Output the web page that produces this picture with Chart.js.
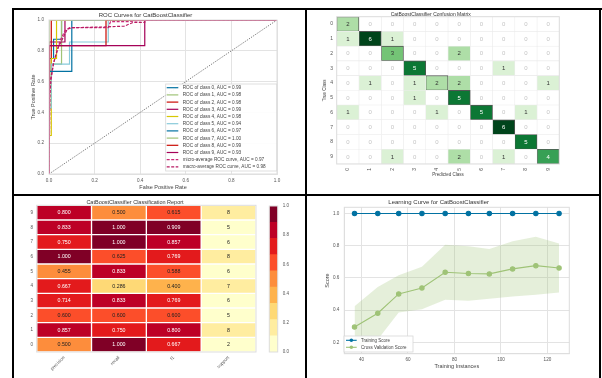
<!DOCTYPE html>
<html>
<head>
<meta charset="utf-8">
<script src="https://cdn.jsdelivr.net/npm/chart.js@4.4.0/dist/chart.umd.min.js"></script>
<style>
body { margin: 0; background: #fff; }
#page { position: relative; width: 602px; height: 378px; overflow: hidden; background: #fff; }
canvas { position: absolute; }
.rule { position: absolute; background: #000; }
</style>
</head>
<body>
<div id="page">
  <canvas id="roc" width="286" height="184" style="left:14px;top:10px"></canvas>
  <canvas id="cm" width="296" height="184" style="left:302px;top:10px"></canvas>
  <canvas id="report" width="246" height="182" style="left:14px;top:196px"></canvas>
  <canvas id="cbar" width="40" height="182" style="left:260px;top:196px"></canvas>
  <canvas id="lc" width="290" height="182" style="left:308px;top:196px"></canvas>
  <div class="rule" style="left:12px;top:8px;width:590px;height:2px"></div>
  <div class="rule" style="left:12px;top:8px;width:2px;height:370px"></div>
  <div class="rule" style="left:599px;top:8px;width:2px;height:370px"></div>
  <div class="rule" style="left:12px;top:194px;width:589px;height:2px"></div>
  <div class="rule" style="left:305px;top:8px;width:2px;height:370px"></div>
</div>
<script>
// ---- ROC data (fpr / tpr per class) ----
const rocClasses = ['0', '1', '2', '3', '4', '5', '6', '7', '8', '9'];
const rocAuc = [0.99, 0.98, 0.98, 0.99, 0.98, 0.94, 0.97, 1.00, 0.99, 0.93];
const rocFpr = [
  [0, 0, 0.02, 0.02, 0.055, 0.055, 1],
  [0, 0, 0.01, 0.01, 0.055, 0.055, 1],
  [0, 0, 0.01, 0.01, 1],
  [0, 0, 0.07, 0.07, 1],
  [0, 0, 0.01, 0.01, 0.033, 0.033, 1],
  [0, 0, 0.01, 0.01, 0.09, 0.09, 0.26, 0.26, 1],
  [0, 0, 0.1, 0.1, 1],
  [0, 0, 1],
  [0, 0, 0.25, 0.25, 1],
  [0, 0, 0.42, 0.42, 1]
];
const rocTpr = [
  [0, 0.75, 0.75, 0.875, 0.875, 1, 1],
  [0, 0.571, 0.571, 0.714, 0.714, 1, 1],
  [0, 0.667, 0.667, 1, 1],
  [0, 0.857, 0.857, 1, 1],
  [0, 0.25, 0.25, 0.75, 0.75, 1, 1],
  [0, 0.429, 0.429, 0.714, 0.714, 0.857, 0.857, 1, 1],
  [0, 0.667, 0.667, 1, 1],
  [0, 1, 1],
  [0, 0.833, 0.833, 1, 1],
  [0, 0.833, 0.833, 1, 1]
];
const microFpr = [0, 0, 0.01, 0.02, 0.035, 0.05, 0.07, 0.09, 0.26, 0.27, 0.35, 0.42, 1];
const microTpr = [0, 0.475, 0.62, 0.72, 0.8, 0.87, 0.93, 0.95, 0.95, 0.99, 0.99, 1, 1];
const macroFpr = [0, 0.005, 0.02, 0.04, 0.06, 0.08, 0.1, 0.25, 0.33, 0.37, 0.42, 0.42, 1];
const macroTpr = [0, 0.6, 0.72, 0.82, 0.88, 0.94, 0.95, 0.955, 0.96, 0.985, 0.985, 1, 1];
const microAuc = 0.97;
const macroAuc = 0.98;
const rateTicks = [0, 0.2, 0.4, 0.6, 0.8, 1.0];

// ---- confusion matrix (rows = true, cols = predicted) ----
const cmClasses = ['0', '1', '2', '3', '4', '5', '6', '7', '8', '9'];
const confusion = [
  [2, 0, 0, 0, 0, 0, 0, 0, 0, 0],
  [1, 6, 1, 0, 0, 0, 0, 0, 0, 0],
  [0, 0, 3, 0, 0, 2, 0, 0, 0, 0],
  [0, 0, 0, 5, 0, 0, 0, 1, 0, 0],
  [0, 1, 0, 1, 2, 2, 0, 0, 0, 1],
  [0, 0, 0, 1, 0, 5, 0, 0, 0, 0],
  [1, 0, 0, 0, 1, 0, 5, 0, 1, 0],
  [0, 0, 0, 0, 0, 0, 0, 6, 0, 0],
  [0, 0, 0, 0, 0, 0, 0, 0, 5, 0],
  [0, 0, 1, 0, 0, 2, 0, 1, 0, 4]
];

// ---- classification report (rows top to bottom) ----
const reportClasses = ['9', '8', '7', '6', '5', '4', '3', '2', '1', '0'];
const reportCols = ['precision', 'recall', 'f1', 'support'];
const precision = [0.800, 0.833, 0.750, 1.000, 0.455, 0.667, 0.714, 0.600, 0.857, 0.500];
const recall    = [0.500, 1.000, 1.000, 0.625, 0.833, 0.286, 0.833, 0.600, 0.750, 1.000];
const f1        = [0.615, 0.909, 0.857, 0.769, 0.588, 0.400, 0.769, 0.600, 0.800, 0.667];
const support   = [8, 5, 6, 8, 6, 7, 6, 5, 8, 2];
const cbarTicks = [0, 0.2, 0.4, 0.6, 0.8, 1.0];

// ---- learning curve ----
const trainSizes = [37, 47, 56, 66, 76, 86, 95, 105, 115, 125];
const trainScore = [1, 1, 1, 1, 1, 1, 1, 1, 1, 1];
const cvScore = [0.295, 0.381, 0.501, 0.538, 0.635, 0.627, 0.625, 0.656, 0.676, 0.662];
const cvUpper = [0.425, 0.544, 0.616, 0.670, 0.806, 0.796, 0.779, 0.827, 0.856, 0.814];
const cvLower = [0.165, 0.218, 0.386, 0.406, 0.464, 0.458, 0.471, 0.485, 0.496, 0.510];
const lcXTicks = [40, 60, 80, 100, 120];
const lcYTicks = [0.2, 0.4, 0.6, 0.8, 1.0];

Chart.defaults.font.family = '"Liberation Sans", Arial, sans-serif';
Chart.defaults.color = '#555';
Chart.defaults.animation = false;
Chart.defaults.events = [];
Chart.defaults.plugins.legend.display = false;
Chart.defaults.plugins.tooltip.enabled = false;

const palette = ['#0272a2', '#9fc377', '#ca0b03', '#a50258', '#d7c703', '#88cada'];
const GRID = '#e3e3e3';

const frame = {
  id: 'frame',
  afterDatasetsDraw(chart, args, opts) {
    const a = chart.chartArea, ctx = chart.ctx;
    ctx.save();
    ctx.strokeStyle = opts.color || '#ddd';
    ctx.lineWidth = 1;
    ctx.strokeRect(a.left, a.top, a.right - a.left, a.bottom - a.top);
    ctx.restore();
  }
};

// legend box drawn inside the plot, like matplotlib
const boxLegend = {
  id: 'boxLegend',
  afterDraw(chart, args, o) {
    if (!o || !o.rows) return;
    const ctx = chart.ctx;
    const items = chart.data.datasets.filter(d => d.label);
    ctx.save();
    ctx.fillStyle = 'rgba(255,255,255,0.9)';
    ctx.strokeStyle = '#d8d8d8';
    ctx.lineWidth = 0.8;
    ctx.fillRect(o.left, o.top, o.width, o.height);
    ctx.strokeRect(o.left, o.top, o.width, o.height);
    ctx.font = o.font + 'px "Liberation Sans", Arial, sans-serif';
    ctx.textBaseline = 'middle';
    items.forEach((d, i) => {
      const y = o.rows + i * o.rowH;
      ctx.strokeStyle = d.borderColor;
      ctx.lineWidth = d.borderWidth;
      ctx.setLineDash(d.borderDash || []);
      ctx.beginPath();
      ctx.moveTo(o.line0, y);
      ctx.lineTo(o.line1, y);
      ctx.stroke();
      ctx.setLineDash([]);
      if (o.marker) {
        ctx.fillStyle = d.borderColor;
        ctx.beginPath();
        ctx.arc((o.line0 + o.line1) / 2, y, o.marker, 0, Math.PI * 2);
        ctx.fill();
      }
      ctx.fillStyle = '#444';
      ctx.fillText(d.label, o.text, y + 0.3);
    });
    ctx.restore();
  }
};

// value text inside heatmap cells
const cellText = {
  id: 'cellText',
  afterDatasetsDraw(chart, args, o) {
    const ctx = chart.ctx;
    ctx.save();
    ctx.font = o.font + 'px "Liberation Sans", Arial, sans-serif';
    ctx.textAlign = 'center';
    ctx.textBaseline = 'middle';
    chart.data.datasets.forEach((ds, di) => {
      if (!ds.cellText) return;
      chart.getDatasetMeta(di).data.forEach((bar, i) => {
        ctx.fillStyle = ds.textColor[i];
        ctx.fillText(ds.cellText[i], (bar.x + bar.base) / 2, bar.y + 0.3);
      });
    });
    ctx.restore();
  }
};

const fixTicks = list => scale => { scale.ticks = list.map(v => ({ value: v })); };

function hexRgb(h) { return [1, 3, 5].map(k => parseInt(h.substr(k, 2), 16)); }
// dark text on bright cells, white text on dark ones
function textOn(hex) {
  const [r, g, b] = hexRgb(hex);
  const br = Math.sqrt(0.241 * r * r + 0.691 * g * g + 0.068 * b * b);
  return br > 130 ? '#222' : '#ffffff';
}

// ================= ROC =================
const rocSets = rocClasses.map((c, i) => ({
  label: 'ROC of class ' + c + ', AUC = ' + rocAuc[i].toFixed(2),
  data: rocFpr[i].map((x, k) => ({ x: x, y: rocTpr[i][k] })),
  borderColor: palette[i % palette.length],
  borderWidth: 1.2,
  order: 30 - i
}));
rocSets.push({
  label: 'micro-average ROC curve, AUC = ' + microAuc.toFixed(2),
  data: microFpr.map((x, k) => ({ x: x, y: microTpr[k] })),
  borderColor: '#cc2a78', borderWidth: 1.2, borderDash: [3, 1.5], order: 5
});
rocSets.push({
  label: 'macro-average ROC curve, AUC = ' + macroAuc.toFixed(2),
  data: macroFpr.map((x, k) => ({ x: x, y: macroTpr[k] })),
  borderColor: '#b81a62', borderWidth: 1.2, borderDash: [3, 1.5], order: 4
});
rocSets.push({
  data: [{ x: 0, y: 0 }, { x: 1, y: 1 }],
  borderColor: '#555', borderWidth: 0.9, borderDash: [1, 1.3], order: 40
});

new Chart(document.getElementById('roc'), {
  type: 'line',
  data: { datasets: rocSets },
  options: {
    responsive: false,
    layout: { padding: { left: 0, top: 0, right: 23, bottom: 0 } },
    elements: { point: { radius: 0 }, line: { tension: 0, fill: false } },
    plugins: {
      title: { display: true, text: 'ROC Curves for CatBoostClassifier', color: '#333',
        font: { size: 6, weight: 'normal' }, padding: { top: 1.4, bottom: 1.4 } },
      boxLegend: { left: 151.7, top: 74, width: 111, height: 87, rows: 77.7, rowH: 7.2,
        line0: 152.7, line1: 164.3, text: 168.7, font: 4.7 }
    },
    scales: {
      x: {
        type: 'linear', min: 0, max: 1,
        afterBuildTicks: fixTicks(rateTicks),
        afterFit: s => { s.height = 20; },
        ticks: { callback: v => v.toFixed(1), padding: 4, font: { size: 4.6 } },
        grid: { color: GRID, drawTicks: false }, border: { color: GRID },
        title: { display: true, text: 'False Positive Rate', color: '#444', font: { size: 5.5 }, padding: { top: 0, bottom: 3.4 } }
      },
      y: {
        type: 'linear', min: 0, max: 1,
        afterBuildTicks: fixTicks(rateTicks),
        afterFit: s => { s.width = 35; },
        ticks: { callback: v => v.toFixed(1), padding: 5, font: { size: 4.6 } },
        grid: { color: GRID, drawTicks: false }, border: { color: GRID },
        title: { display: true, text: 'True Positive Rate', color: '#444', font: { size: 5.5 }, padding: { top: 15.7, bottom: 0 } }
      }
    }
  },
  plugins: [frame, boxLegend]
});

// ================= Confusion matrix =================
const greenStops = ['#f7fcf5', '#e5f5e0', '#c7e9c0', '#a1d99b', '#74c476', '#41ab5d', '#238b45', '#006d2c', '#00441b'];
function greens(t) {
  const p = Math.max(0, Math.min(1, t)) * (greenStops.length - 1);
  const i = Math.min(greenStops.length - 2, Math.floor(p));
  const f = p - i, a = hexRgb(greenStops[i]), b = hexRgb(greenStops[i + 1]);
  return 'rgb(' + a.map((v, k) => Math.round(v + (b[k] - v) * f)).join(',') + ')';
}
const cmMax = Math.max(...confusion.map(r => Math.max(...r)));
const cmSets = cmClasses.map((c, col) => ({
  data: cmClasses.map(() => 1),
  backgroundColor: confusion.map(r => r[col] === 0 ? '#ffffff' : greens(r[col] / cmMax)),
  borderColor: confusion.map((r, row) => row === col ? '#555' : '#ececec'),
  borderWidth: confusion.map((r, row) => row === col ? 0.9 : 0.6),
  borderSkipped: false,
  cellText: confusion.map(r => String(r[col])),
  textColor: confusion.map(r => r[col] === 0 ? '#c4c4c4' : (r[col] >= 4 ? '#ffffff' : '#333'))
}));

new Chart(document.getElementById('cm'), {
  type: 'bar',
  data: { labels: cmClasses, datasets: cmSets },
  options: {
    responsive: false,
    indexAxis: 'y',
    barPercentage: 1, categoryPercentage: 1,
    layout: { padding: { left: 0, top: 0, right: 38.7, bottom: 0 } },
    plugins: {
      title: { display: true, text: 'CatBoostClassifier Confusion Matrix', color: '#333',
        font: { size: 5, weight: 'normal', lineHeight: 1 }, padding: { top: 1, bottom: 0 } },
      cellText: { font: 6 }
    },
    scales: {
      x: {
        type: 'linear', stacked: true, min: 0, max: cmClasses.length,
        afterBuildTicks: fixTicks(cmClasses.map((c, i) => i + 0.5)),
        afterFit: s => { s.height = 30; },
        ticks: { callback: (v, i) => cmClasses[i], minRotation: 90, maxRotation: 90, autoSkip: false, padding: 4, font: { size: 5 } },
        grid: { display: false, drawTicks: false }, border: { display: false },
        title: { display: true, text: 'Predicted Class', color: '#444', font: { size: 4.5 }, padding: { top: 0, bottom: 16.3 } }
      },
      y: {
        stacked: true,
        afterFit: s => { s.width = 34.7; },
        ticks: { padding: 3.7, font: { size: 5 } },
        grid: { display: false, drawTicks: false }, border: { display: false },
        title: { display: true, text: 'True Class', color: '#444', font: { size: 4.5 }, padding: { top: 20.3, bottom: 0 } }
      }
    }
  },
  plugins: [cellText, frame]
});

// ================= Classification report =================
const ylorrd = ['#ffffcc', '#ffeda0', '#fed976', '#feb24c', '#fd8d3c', '#fc4e2a', '#e31a1c', '#bd0026', '#800026'];
const band = v => Math.min(ylorrd.length - 1, Math.floor(v * ylorrd.length));
const supportTotal = support.reduce((a, b) => a + b, 0);
const reportValues = [precision, recall, f1, support.map(s => s / supportTotal)];
const reportText = [precision, recall, f1].map(a => a.map(v => v.toFixed(3))).concat([support.map(String)]);

const reportSets = reportCols.map((c, k) => ({
  data: reportClasses.map(() => 1),
  backgroundColor: reportValues[k].map(v => ylorrd[band(v)]),
  borderColor: 'rgba(255,255,255,0.75)',
  borderWidth: 1,
  borderSkipped: false,
  cellText: reportText[k],
  textColor: reportValues[k].map(v => textOn(ylorrd[band(v)]))
}));

new Chart(document.getElementById('report'), {
  type: 'bar',
  data: { labels: reportClasses, datasets: reportSets },
  options: {
    responsive: false,
    indexAxis: 'y',
    barPercentage: 1, categoryPercentage: 1,
    layout: { padding: { left: 0, top: 0, right: 4, bottom: 0 } },
    plugins: {
      title: { display: true, text: 'CatBoostClassifier Classification Report', color: '#333',
        font: { size: 5.5, weight: 'normal' }, padding: { top: 2.7, bottom: 0 } },
      cellText: { font: 5.3 }
    },
    scales: {
      x: {
        type: 'linear', stacked: true, min: 0, max: reportCols.length,
        afterBuildTicks: fixTicks(reportCols.map((c, i) => i + 0.5)),
        afterFit: s => { s.height = 26; },
        ticks: { callback: (v, i) => reportCols[i], minRotation: 45, maxRotation: 45, autoSkip: false, padding: 3, font: { size: 4.5 } },
        grid: { display: false, drawTicks: false }, border: { display: false }
      },
      y: {
        stacked: true,
        afterFit: s => { s.width = 22.7; },
        ticks: { padding: 3.7, font: { size: 4.5 } },
        grid: { display: false, drawTicks: false }, border: { display: false }
      }
    }
  },
  plugins: [cellText, frame]
});

// colorbar
new Chart(document.getElementById('cbar'), {
  type: 'bar',
  data: {
    labels: [''],
    datasets: ylorrd.map(col => ({ data: [1 / ylorrd.length], backgroundColor: col, borderWidth: 0 }))
  },
  options: {
    responsive: false,
    barPercentage: 1, categoryPercentage: 1,
    layout: { padding: { left: 9.3, top: 10, right: 0, bottom: 26 } },
    scales: {
      x: { stacked: true, display: false },
      y: {
        stacked: true, position: 'right', min: 0, max: 1,
        afterBuildTicks: fixTicks(cbarTicks),
        afterFit: s => { s.width = 22.3; },
        ticks: { callback: v => v.toFixed(1), padding: 5, font: { size: 4.5 } },
        grid: { display: false, drawTicks: false }, border: { display: false }
      }
    }
  },
  plugins: [frame]
});

// ================= Learning curve =================
const lcBlue = '#0272a2', lcGreen = '#9fc377';
new Chart(document.getElementById('lc'), {
  type: 'line',
  data: {
    datasets: [
      { data: trainSizes.map((x, i) => ({ x: x, y: cvUpper[i] })), fill: '+1',
        backgroundColor: 'rgba(159,195,119,0.27)', borderWidth: 0, pointRadius: 0, order: 3 },
      { data: trainSizes.map((x, i) => ({ x: x, y: cvLower[i] })), fill: false,
        borderWidth: 0, pointRadius: 0, order: 3 },
      { label: 'Training Score', data: trainSizes.map((x, i) => ({ x: x, y: trainScore[i] })),
        borderColor: lcBlue, backgroundColor: lcBlue, borderWidth: 1.1, pointRadius: 2.2, order: 1 },
      { label: 'Cross Validation Score', data: trainSizes.map((x, i) => ({ x: x, y: cvScore[i] })),
        borderColor: lcGreen, backgroundColor: lcGreen, borderWidth: 1.1, pointRadius: 2.2, order: 2 }
    ]
  },
  options: {
    responsive: false,
    layout: { padding: { left: 0, top: 0, right: 28.7, bottom: 0 } },
    elements: { line: { tension: 0 }, point: { borderWidth: 0 } },
    plugins: {
      title: { display: true, text: 'Learning Curve for CatBoostClassifier', color: '#333',
        font: { size: 6, weight: 'normal' }, padding: { top: 2.7, bottom: 1.4 } },
      boxLegend: { left: 36, top: 140, width: 69, height: 16, rows: 144.3, rowH: 7,
        line0: 38, line1: 48.7, text: 53, font: 4.5, marker: 1.8 }
    },
    scales: {
      x: {
        type: 'linear', min: 32.6, max: 129.4,
        afterBuildTicks: fixTicks(lcXTicks),
        afterFit: s => { s.height = 24.3; },
        ticks: { padding: 3.3, font: { size: 4.6 } },
        grid: { color: GRID, drawTicks: false }, border: { color: GRID },
        title: { display: true, text: 'Training Instances', color: '#444', font: { size: 5.5 }, padding: { top: 0, bottom: 8.4 } }
      },
      y: {
        type: 'linear', min: 0.13, max: 1.038,
        afterBuildTicks: fixTicks(lcYTicks),
        afterFit: s => { s.width = 36.3; },
        ticks: { callback: v => v.toFixed(1), padding: 5, font: { size: 4.6 } },
        grid: { color: GRID, drawTicks: false }, border: { color: GRID },
        title: { display: true, text: 'Score', color: '#444', font: { size: 5.5 }, padding: { top: 15.7, bottom: 0 } }
      }
    }
  },
  plugins: [frame, boxLegend]
});
</script>
</body>
</html>
